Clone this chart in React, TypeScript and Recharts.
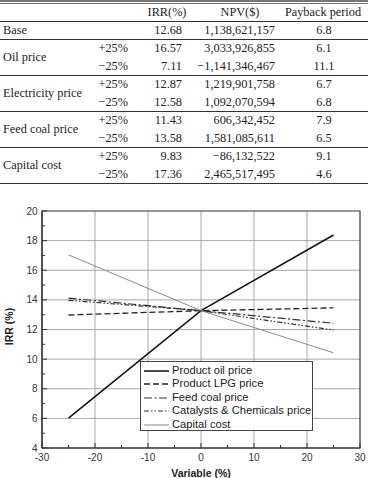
import React from 'react';
import { LineChart, Line, XAxis, YAxis, CartesianGrid, Legend, Label, ReferenceArea } from 'recharts';

// Sensitivity results: variation of each input (%) against project IRR (%)
const variation = [-25, 0, 25];
const productOilIrr = [6.02, 13.27, 18.38];
const productLpgIrr = [12.98, 13.27, 13.46];
const feedCoalIrr = [14.12, 13.27, 12.42];
const catalystsIrr = [13.97, 13.27, 11.96];
const capitalCostIrr = [17.04, 13.27, 10.43];

const seriesNames = [
  'Product oil price',
  'Product LPG price',
  'Feed coal price',
  'Catalysts & Chemicals price',
  'Capital cost',
];

const xTicks = [-30, -25, -20, -15, -10, -5, 0, 5, 10, 15, 20, 25, 30];
const yTicks = [4, 5, 6, 7, 8, 9, 10, 11, 12, 13, 14, 15, 16, 17, 18, 19, 20];
const xGrid = [-20, -10, 0, 10, 20];
const yGrid = [6, 8, 10, 12, 14, 16, 18];
const xDomain = [-30, 30];
const yDomain = [4, 20];

// Summary table
const tableHeaders = ['IRR(%)', 'NPV($)', 'Payback period'];
const baseLabel = 'Base';
const caseGroups = ['Oil price', 'Electricity price', 'Feed coal price', 'Capital cost'];
const caseChanges = ['+25%', '\u221225%'];
const irrValues = ['12.68', '16.57', '7.11', '12.87', '12.58', '11.43', '13.58', '9.83', '17.36'];
const npvValues = [
  '1,138,621,157',
  '3,033,926,855',
  '\u22121,141,346,467',
  '1,219,901,758',
  '1,092,070,594',
  '606,342,452',
  '1,581,085,611',
  '\u221286,132,522',
  '2,465,517,495',
];
const paybackValues = ['6.8', '6.1', '11.1', '6.7', '6.8', '7.9', '6.5', '9.1', '4.6'];

const seriesValues = [productOilIrr, productLpgIrr, feedCoalIrr, catalystsIrr, capitalCostIrr];
const seriesKeys = ['oil', 'lpg', 'coal', 'cat', 'capex'];

const data = variation.map((v, i) => {
  const row: Record<string, number> = { x: v };
  seriesKeys.forEach((k, s) => {
    row[k] = seriesValues[s][i];
  });
  return row;
});

const seriesStyles = [
  { stroke: '#111', width: 1.5, dash: undefined as string | undefined },
  { stroke: '#222', width: 1.3, dash: '6 3' },
  { stroke: '#333', width: 1.2, dash: '8 2.5 2 2.5' },
  { stroke: '#333', width: 1.2, dash: '5 2 1.5 2 1.5 2' },
  { stroke: '#8a8a8a', width: 1, dash: undefined },
];

const SANS = '"Liberation Sans", Arial, sans-serif';
const SERIF = '"Liberation Serif", "Times New Roman", serif';
const AXIS = '#333';

const YTick = (props: any) => {
  const { x, y, payload } = props;
  const v = payload.value as number;
  const major = v % 2 === 0;
  return (
    <g>
      <line x1={x} x2={x + (major ? 5 : 3)} y1={y} y2={y} stroke={AXIS} strokeWidth={1} />
      {major && (
        <text x={x - 4.5} y={y} textAnchor="end" dominantBaseline="central" fontFamily={SANS} fontSize={10} fill="#333">
          {v}
        </text>
      )}
    </g>
  );
};

const XTick = (props: any) => {
  const { x, y, payload } = props;
  const v = payload.value as number;
  const major = v % 10 === 0;
  return (
    <g>
      <line x1={x} x2={x} y1={y} y2={y - (major ? 5 : 3)} stroke={AXIS} strokeWidth={1} />
      {major && (
        <text x={x} y={y + 9.5} textAnchor="middle" dominantBaseline="central" fontFamily={SANS} fontSize={10} fill="#333">
          {v}
        </text>
      )}
    </g>
  );
};

const LegendBox = () => (
  <div
    style={{
      boxSizing: 'border-box',
      width: 173,
      height: 70,
      border: '1px solid #444',
      background: '#fff',
      paddingTop: 1.5,
    }}
  >
    {seriesNames.map((name, i) => {
      const st = seriesStyles[i];
      return (
        <div key={name} style={{ display: 'flex', alignItems: 'center', height: 13.5 }}>
          <svg width={31} height={13.5} style={{ display: 'block' }}>
            <line x1={3} x2={28} y1={7} y2={7} stroke={st.stroke} strokeWidth={st.width} strokeDasharray={st.dash} />
          </svg>
          <span style={{ fontFamily: SANS, fontSize: 11.2, color: '#222', lineHeight: '13.5px', whiteSpace: 'nowrap' }}>
            {name}
          </span>
        </div>
      );
    })}
  </div>
);

const cellStyle = (top: number): React.CSSProperties => ({
  position: 'absolute',
  top: top - 9,
  height: 18,
  lineHeight: '18px',
  fontFamily: SERIF,
  fontSize: 12.3,
  color: '#222',
  whiteSpace: 'nowrap',
});

const Right = ({ x, y, text }: { x: number; y: number; text: string }) => (
  <div style={{ ...cellStyle(y), left: x - 150, width: 150, textAlign: 'right' }}>{text}</div>
);
const Center = ({ x, y, text }: { x: number; y: number; text: string }) => (
  <div style={{ ...cellStyle(y), left: x - 60, width: 120, textAlign: 'center' }}>{text}</div>
);
const Left = ({ x, y, text }: { x: number; y: number; text: string }) => (
  <div style={{ ...cellStyle(y), left: x, textAlign: 'left' }}>{text}</div>
);
const HLine = ({ y, color = '#333', h = 1 }: { y: number; color?: string; h?: number }) => (
  <div style={{ position: 'absolute', left: 0, width: 368, top: y, height: h, background: color }} />
);

const SummaryTable = () => {
  const rowCenters = [30];
  caseGroups.forEach((_, g) => {
    rowCenters.push(39 + 36 * g + 9, 39 + 36 * g + 27);
  });
  return (
    <div style={{ position: 'absolute', left: 0, top: 0, width: 368, height: 190 }}>
      <HLine y={0} color="#777" h={1.5} />
      <HLine y={3} color="#777" />
      <HLine y={21} />
      <HLine y={39} />
      {caseGroups.map((_, g) => (
        <HLine key={g} y={39 + 36 * (g + 1)} />
      ))}
      <Center x={167} y={12} text={tableHeaders[0]} />
      <Center x={240} y={12} text={tableHeaders[1]} />
      <Center x={323} y={12} text={tableHeaders[2]} />
      <Left x={3} y={30} text={baseLabel} />
      {caseGroups.map((name, g) => (
        <React.Fragment key={name}>
          <Left x={3} y={39 + 36 * g + 18} text={name} />
          <Right x={128} y={39 + 36 * g + 9} text={caseChanges[0]} />
          <Right x={128} y={39 + 36 * g + 27} text={caseChanges[1]} />
        </React.Fragment>
      ))}
      {rowCenters.map((y, i) => (
        <React.Fragment key={i}>
          <Right x={182} y={y} text={irrValues[i]} />
          <Right x={275} y={y} text={npvValues[i]} />
          <Center x={324} y={y} text={paybackValues[i]} />
        </React.Fragment>
      ))}
    </div>
  );
};

export default function App() {
  return (
    <div style={{ position: 'absolute', left: 0, top: 0, width: 368, height: 478, background: '#fff', overflow: 'hidden' }}>
      <LineChart width={368} height={478} data={data} margin={{ top: 211, right: 8, bottom: 0, left: 0 }}>
        <CartesianGrid stroke="#a8a8a8" strokeWidth={1} horizontalValues={yGrid} verticalValues={xGrid} />
        <XAxis
          dataKey="x"
          type="number"
          domain={xDomain}
          ticks={xTicks}
          interval={0}
          height={30}
          tickSize={0}
          tickMargin={0}
          tickLine={false}
          axisLine={{ stroke: AXIS, strokeWidth: 1.2 }}
          tick={<XTick />}
        >
          <Label
            content={({ viewBox }: any) => (
              <text
                x={viewBox.x + viewBox.width / 2}
                y={viewBox.y + 24.5}
                textAnchor="middle"
                dominantBaseline="central"
                fontFamily={SANS}
                fontWeight="bold"
                fontSize={10.5}
                fill="#222"
              >
                Variable (%)
              </text>
            )}
          />
        </XAxis>
        <YAxis
          type="number"
          domain={yDomain}
          ticks={yTicks}
          interval={0}
          width={42}
          tickSize={0}
          tickMargin={0}
          tickLine={false}
          axisLine={{ stroke: AXIS, strokeWidth: 1.2 }}
          tick={<YTick />}
        >
          <Label
            content={({ viewBox }: any) => {
              const cx = 9;
              const cy = viewBox.y + viewBox.height / 2 - 3;
              return (
                <text
                  x={cx}
                  y={cy}
                  transform={`rotate(-90 ${cx} ${cy})`}
                  textAnchor="middle"
                  dominantBaseline="central"
                  fontFamily={SANS}
                  fontWeight="bold"
                  fontSize={10.5}
                  fill="#222"
                >
                  IRR (%)
                </text>
              );
            }}
          />
        </YAxis>
        {/* plot frame */}
        <ReferenceArea
          x1={xDomain[0]}
          x2={xDomain[1]}
          y1={yDomain[0]}
          y2={yDomain[1]}
          fill="none"
          fillOpacity={0}
          stroke={AXIS}
          strokeWidth={1.2}
          ifOverflow="visible"
        />
        {seriesKeys.map((k, i) => (
          <Line
            key={k}
            dataKey={k}
            name={seriesNames[i]}
            type="linear"
            stroke={seriesStyles[i].stroke}
            strokeWidth={seriesStyles[i].width}
            strokeDasharray={seriesStyles[i].dash}
            dot={false}
            activeDot={false}
            isAnimationActive={false}
          />
        ))}
        <Legend
          layout="horizontal"
          verticalAlign="middle"
          align="center"
          content={() => <LegendBox />}
          wrapperStyle={{ position: 'absolute', left: 140, top: 361, width: 173, height: 70, bottom: 'auto', right: 'auto' }}
        />
      </LineChart>
      <SummaryTable />
    </div>
  );
}
